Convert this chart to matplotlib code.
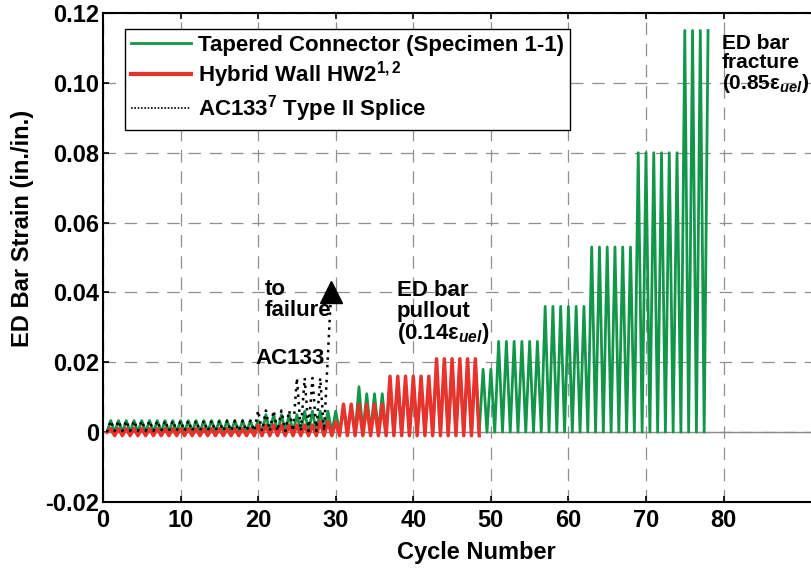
import matplotlib
matplotlib.use("Agg")
import matplotlib.pyplot as plt
from matplotlib.lines import Line2D

plt.rcParams['font.family'] = ['Liberation Sans', 'DejaVu Sans']
plt.rcParams['font.weight'] = 'bold'
plt.rcParams['mathtext.fontset'] = 'custom'
plt.rcParams['mathtext.rm'] = 'Liberation Sans:bold'
plt.rcParams['mathtext.it'] = 'Liberation Sans:bold:italic'
plt.rcParams['mathtext.bf'] = 'Liberation Sans:bold'
plt.rcParams['mathtext.sf'] = 'Liberation Sans'
plt.rcParams['mathtext.default'] = 'rm'

# peak strain of each cycle (cycle k peaks at x = k)
tapered_peaks = [
    0.0033, 0.0033, 0.0033, 0.0033, 0.0033, 0.0033, 0.0033, 0.0033, 0.0033, 0.0033,
    0.0033, 0.0033, 0.0033, 0.0033, 0.0033, 0.0033, 0.0033, 0.0033, 0.0033, 0.0033,
    0.005, 0.005, 0.005, 0.005, 0.005, 0.006, 0.006, 0.006, 0.006, 0.006,
    0.007, 0.007, 0.013, 0.011, 0.011, 0.011,
    0.014, 0.014, 0.014, 0.014, 0.014, 0.014,
    0.019, 0.019, 0.019, 0.019, 0.019, 0.019,
    0.018, 0.018,
    0.026, 0.026, 0.026, 0.026, 0.026, 0.026,
    0.036, 0.036, 0.036, 0.036, 0.036, 0.036,
    0.053, 0.053, 0.053, 0.053, 0.053, 0.053,
    0.080, 0.080, 0.080, 0.080, 0.080, 0.080,
    0.115, 0.115, 0.115, 0.115,
]
tapered_trough = 0.0

hybrid_peaks = [
    0.001, 0.001, 0.001, 0.001, 0.001, 0.001, 0.001, 0.001, 0.001, 0.001,
    0.001, 0.001, 0.001, 0.001, 0.001, 0.001, 0.001, 0.001, 0.001,
    0.002, 0.002, 0.002, 0.002, 0.002, 0.002, 0.002, 0.002,
    0.003, 0.003, 0.003,
    0.008, 0.008, 0.008, 0.008, 0.008, 0.008,
    0.016, 0.016, 0.016, 0.016, 0.016, 0.016,
    0.021, 0.021, 0.021, 0.021, 0.021, 0.021,
]
hybrid_trough = -0.001

ac133_peaks = [
    0.0033, 0.0033, 0.0033, 0.0033, 0.0033, 0.0033, 0.0033, 0.0033, 0.0033, 0.0033,
    0.0033, 0.0033, 0.0033, 0.0033, 0.0033, 0.0033, 0.0033, 0.0033, 0.0033,
    0.0062, 0.0062, 0.0062, 0.0062, 0.0062,
    0.0155, 0.0155, 0.0155, 0.0155,
]
ac133_trough = 0.0003
ac133_fail_cycle = 29.4
ac133_fail_strain = 0.040


def zigzag(peaks, trough, end_on_peak=False):
    xs, ys = [0.5], [0.0]
    for k, p in enumerate(peaks, start=1):
        xs += [k, k + 0.5]
        ys += [p, trough]
    if end_on_peak:
        xs, ys = xs[:-1], ys[:-1]
    return xs, ys


green = '#12964a'
red = '#e8322b'

fig = plt.figure(figsize=(8.12, 5.69), dpi=100)
ax = fig.add_axes([103 / 812, 67 / 569, 709 / 812, 489 / 569])

gx, gy = zigzag(tapered_peaks, tapered_trough, end_on_peak=True)
rx, ry = zigzag(hybrid_peaks, hybrid_trough)
cx, cy = zigzag(ac133_peaks, ac133_trough)
cx.append(ac133_fail_cycle)
cy.append(ac133_fail_strain)

ax.axhline(0, color='#8a8a8a', lw=1.0, zorder=1)
ax.plot(gx, gy, color=green, lw=2.0, zorder=3)
ax.plot(rx, ry, color=red, lw=2.5, zorder=4)
ax.plot(cx, cy, color='black', lw=1.8, linestyle=(0, (1, 2.0)), zorder=5)
ax.plot([cx[-1]], [cy[-1]], marker='^', color='black', markersize=16, zorder=6)

ax.set_xlim(0, 91.4)
ax.set_ylim(-0.02, 0.12)
ax.set_xticks(range(0, 81, 10))
yt = [-0.02, 0, 0.02, 0.04, 0.06, 0.08, 0.10, 0.12]
ax.set_yticks(yt)
ax.set_yticklabels(['-0.02', '0', '0.02', '0.04', '0.06', '0.08', '0.10', '0.12'])
ax.grid(True, color='#8f8f8f', linestyle=(0, (10, 7)), lw=0.9)
ax.set_axisbelow(True)
ax.tick_params(direction='in', length=4, width=1.2, top=True, right=False,
               labelsize=17)
ax.tick_params(axis='x', pad=5)
ax.tick_params(axis='y', pad=3)
for s in ['left', 'bottom', 'top']:
    ax.spines[s].set_linewidth(1.5)
ax.spines['right'].set_visible(False)

fig.text(23 / 812, 1 - 228 / 569, 'ED Bar Strain (in./in.)', rotation=90,
         ha='center', va='center', fontsize=17)
fig.text(476 / 812, 1 - 552 / 569, 'Cycle Number', ha='center', va='center',
         fontsize=17)

ax.text(20.9, 0.0379, 'to\nfailure', fontsize=16, ha='left', va='center',
        linespacing=1.0)
ax.text(19.6, 0.0210, 'AC133', fontsize=16, ha='left', va='center')
ax.text(37.9, 0.0341, 'ED bar\npullout\n(0.14$\\mathsf{\\varepsilon}_{\\mathit{uel}}$)',
        fontsize=16, ha='left', va='center', linespacing=0.95)
ax.text(79.8, 0.1052, 'ED bar\nfracture\n(0.85$\\mathsf{\\varepsilon}_{\\mathit{uel}}$)',
        fontsize=15, ha='left', va='center', linespacing=1.0)

handles = [
    Line2D([], [], color=green, lw=2.0),
    Line2D([], [], color=red, lw=3.0),
    Line2D([], [], color='black', lw=1.2, linestyle=(0, (1, 1))),
]
labels = ['Tapered Connector (Specimen 1-1)', 'Hybrid Wall HW2$^{1,2}$',
          'AC133$^{7}$ Type II Splice']
leg = ax.legend(handles, labels, loc='upper left',
                bbox_to_anchor=(125 / 812, 1 - 29 / 569),
                bbox_transform=fig.transFigure, borderaxespad=0,
                fontsize=16, handlelength=2.7, handletextpad=0.35,
                labelspacing=0.15, borderpad=0.25, fancybox=False,
                framealpha=1, edgecolor='black')
leg.get_frame().set_linewidth(1.0)

fig.savefig('out.png', dpi=100)
